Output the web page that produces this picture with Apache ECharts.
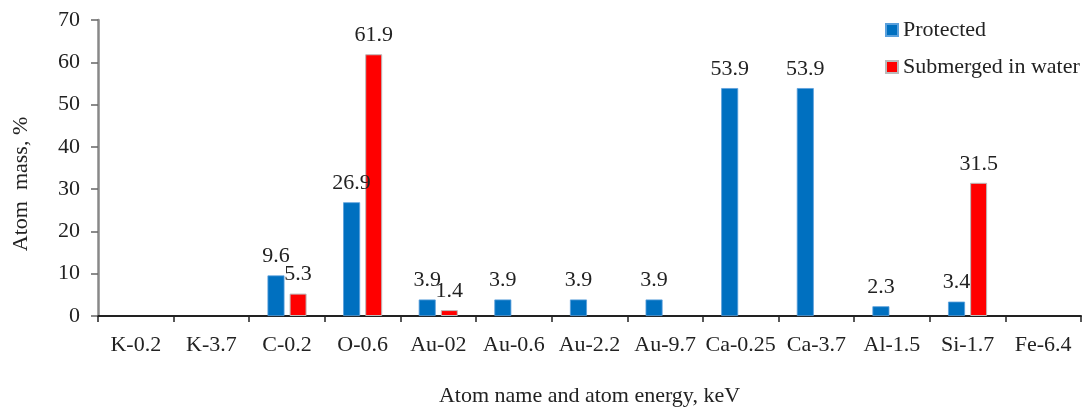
<!DOCTYPE html>
<html>
<head>
<meta charset="utf-8">
<script src="https://cdn.jsdelivr.net/npm/echarts@6/dist/echarts.min.js"></script>
<style>html,body{margin:0;padding:0;background:#fff}#c{width:1087px;height:414px}</style>
</head>
<body>
<div id="c"></div>
<script>
const categories = ['K-0.2','K-3.7','C-0.2','O-0.6','Au-02','Au-0.6','Au-2.2','Au-9.7','Ca-0.25','Ca-3.7','Al-1.5','Si-1.7','Fe-6.4'];
const protectedValues = [null,null,9.6,26.9,3.9,3.9,3.9,3.9,53.9,53.9,2.3,3.4,null];
const submergedValues = [null,null,5.3,61.9,1.4,null,null,null,null,null,null,31.5,null];
const seriesNames = ['Protected','Submerged in water'];
const yTicks = {min:0,max:70,interval:10};

const font = 'Liberation Serif';
const fs = 22;
const chart = echarts.init(document.getElementById('c'));
chart.setOption({
  animation:false,
  textStyle:{fontFamily:font},
  grid:{left:98,right:6,top:20,bottom:98},
  legend:{
    orient:'vertical', left:880, top:14, itemWidth:12, itemHeight:12, itemGap:15,
    icon:'rect',
    textStyle:{fontFamily:font,fontSize:fs,color:'#222'},
    data:seriesNames
  },
  xAxis:{
    type:'category', data:categories,
    name:'Atom name and atom energy, keV', nameLocation:'middle', nameGap:69,
    nameTextStyle:{fontFamily:font,fontSize:fs,color:'#222'},
    axisLine:{lineStyle:{color:'#222',width:2}},
    axisTick:{show:true,length:6,lineStyle:{color:'#222',width:1.5}},
    axisLabel:{fontFamily:font,fontSize:fs,color:'#222',margin:18,interval:0}
  },
  yAxis:{
    type:'value', min:yTicks.min, max:yTicks.max, interval:yTicks.interval,
    name:'Atom  mass, %', nameLocation:'middle', nameGap:66, nameRotate:90,
    nameTextStyle:{fontFamily:font,fontSize:fs,color:'#222',padding:[0,0,0,-32]},
    axisLine:{show:true,lineStyle:{color:'#888',width:2.5}},
    axisTick:{show:true,length:7,lineStyle:{color:'#666',width:1.5}},
    splitLine:{show:false},
    axisLabel:{fontFamily:font,fontSize:fs,color:'#222',margin:18}
  },
  series:[
    {name:seriesNames[0],type:'bar',data:protectedValues,barWidth:17,barGap:'30%',
     itemStyle:{color:'#0070C0',borderColor:'#5aa0dc',borderWidth:0.8},
     label:{show:true,position:'top',distance:8,fontFamily:font,fontSize:fs,color:'#222'}},
    {name:seriesNames[1],type:'bar',data:submergedValues,barWidth:17,
     itemStyle:{color:'#FF0000',borderColor:'#bbbbbb',borderWidth:1},
     label:{show:true,position:'top',distance:8,fontFamily:font,fontSize:fs,color:'#222'}}
  ]
});
</script>
</body>
</html>
